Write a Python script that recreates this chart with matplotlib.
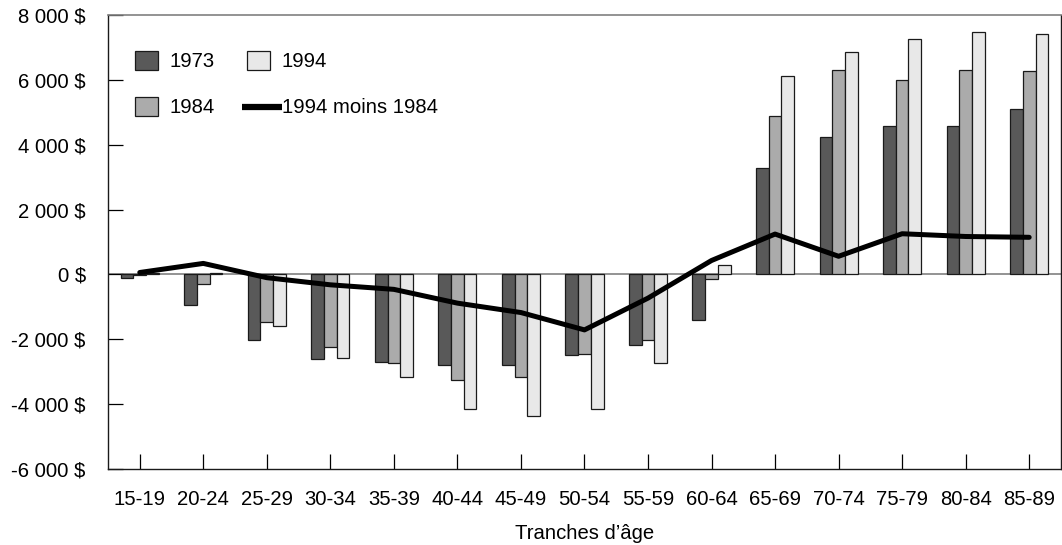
import numpy as np
import matplotlib
matplotlib.use("Agg")
import matplotlib.pyplot as plt
from matplotlib.lines import Line2D
from matplotlib.patches import Patch
from matplotlib.legend_handler import HandlerBase

plt.rcParams['font.family'] = ['Liberation Sans', 'DejaVu Sans']

# Age brackets and average amounts (dollars) per survey year
ages = ['15-19', '20-24', '25-29', '30-34', '35-39', '40-44', '45-49', '50-54',
        '55-59', '60-64', '65-69', '70-74', '75-79', '80-84', '85-89']
y1973 = [-100, -940, -2020, -2610, -2710, -2780, -2780, -2480, -2170, -1420,
         3270, 4230, 4580, 4580, 5110]
y1984 = [-20, -300, -1470, -2245, -2720, -3265, -3170, -2440, -2010, -130,
         4875, 6315, 6000, 6300, 6265]
y1994 = [30, 40, -1590, -2570, -3170, -4150, -4350, -4150, -2740, 300,
         6120, 6870, 7255, 7470, 7410]
diff_94_84 = [60, 340, -100, -320, -460, -885, -1175, -1710, -730, 430,
              1245, 560, 1255, 1170, 1145]
yticks = [-6000, -4000, -2000, 0, 2000, 4000, 6000, 8000]

FS = 14.6


class LongLineHandler(HandlerBase):
    # draws the line sample a bit longer than the patch samples
    def create_artists(self, legend, orig, xdescent, ydescent, width, height,
                       fontsize, trans):
        y = height / 2 - ydescent
        ln = Line2D([-xdescent - 4, -xdescent + width + 9], [y, y],
                    color='black', lw=4.5, solid_capstyle='butt')
        ln.set_transform(trans)
        return [ln]


fig = plt.figure(figsize=(10.62, 5.45), dpi=100)
ax = fig.add_axes([0.1017, 0.1394, 0.8973, 0.8331])

x = np.arange(len(ages))
w = 0.2
edge = dict(edgecolor='#1a1a1a', linewidth=0.9)
ax.bar(x - w, y1973, w, color='#595959', zorder=2, **edge)
ax.bar(x, y1984, w, color='#ababab', zorder=2, **edge)
ax.bar(x + w, y1994, w, color='#e8e8e8', zorder=2, **edge)
ax.axhline(0, color='#808080', lw=1.2, zorder=1)
ax.plot(x, diff_94_84, color='black', lw=3.6, zorder=3, solid_capstyle='round')

ax.set_xlim(-0.5, len(ages) - 0.5)
ax.set_ylim(-6000, 8000)
ax.set_yticks(yticks)
ax.set_yticklabels([f"{v:,} $".replace(',', ' ') for v in yticks])
ax.set_xticks(x)
ax.set_xticklabels(ages)
ax.tick_params(axis='y', direction='in', length=10.5, width=0.9, pad=16,
               labelsize=FS)
ax.tick_params(axis='x', direction='in', length=10.5, width=0.9, pad=15,
               labelsize=FS)
ax.set_xlabel('Tranches d’âge', fontsize=FS, labelpad=11)

for side in ['left', 'right', 'bottom']:
    ax.spines[side].set_color('#1a1a1a')
    ax.spines[side].set_linewidth(1.0)
ax.spines['top'].set_color('#808080')
ax.spines['top'].set_linewidth(1.2)

handles = [Patch(facecolor='#595959', edgecolor='#1a1a1a', lw=0.9),
           Patch(facecolor='#ababab', edgecolor='#1a1a1a', lw=0.9),
           Patch(facecolor='#e8e8e8', edgecolor='#1a1a1a', lw=0.9),
           Line2D([], [], color='black', lw=4.5)]
labels = ['1973', '1984', '1994', '1994 moins 1984']
ax.legend(handles, labels, ncol=2, loc='upper left',
          bbox_to_anchor=(-0.0075, 0.997), frameon=False, fontsize=FS,
          handlelength=1.1, handleheight=1.1, handletextpad=0.6,
          labelspacing=1.25, columnspacing=1.6, borderpad=1.2,
          borderaxespad=0.5,
          handler_map={Line2D: LongLineHandler()})

fig.savefig('out.png', dpi=100)
